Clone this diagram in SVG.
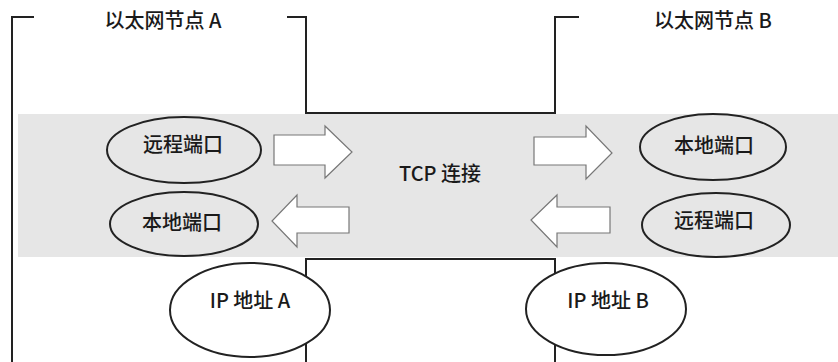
<svg xmlns="http://www.w3.org/2000/svg" width="838" height="362" viewBox="0 0 838 362">
<style>
  .ln{fill:none;stroke:#222;stroke-width:2}
  .el{fill:#fff;stroke:#222;stroke-width:2}
  .elg{fill:#e6e6e6;stroke:#222;stroke-width:2}
  .ar{fill:#fff;stroke:#777;stroke-width:1.2;stroke-linejoin:miter}
  .t{font-family:"Noto Sans CJK SC","Noto Sans",sans-serif;font-size:20px;font-weight:500;fill:#1a1a1a;text-anchor:middle}
</style>
<rect x="18" y="114" width="820" height="143" fill="#e6e6e6"/>
<g id="node-a-boundary">
  <path class="ln" d="M34 17 H12 V362"/>
  <path class="ln" d="M287 17 H306 V113 H555 V17 H579"/>
  <path class="ln" d="M306 362 V259 H555 V362"/>
</g>
<g id="label-a"><text class="t" x="163" y="28">以太网节点 A</text></g>
<g id="label-b"><text class="t" x="713" y="28">以太网节点 B</text></g>
<g id="tcp"><text class="t" x="440" y="181">TCP 连接</text></g>
<g id="a-remote-port">
  <ellipse class="elg" cx="184" cy="150" rx="77" ry="33"/>
  <text class="t" x="183" y="152">远程端口</text>
</g>
<g id="a-local-port">
  <ellipse class="elg" cx="184" cy="224" rx="74" ry="32"/>
  <text class="t" x="182" y="230">本地端口</text>
</g>
<g id="b-local-port">
  <ellipse class="elg" cx="713" cy="147" rx="73" ry="33"/>
  <text class="t" x="714" y="153">本地端口</text>
</g>
<g id="b-remote-port">
  <ellipse class="elg" cx="716" cy="225" rx="74" ry="32"/>
  <text class="t" x="714" y="228">远程端口</text>
</g>
<g id="ip-a">
  <ellipse class="el" cx="250" cy="310" rx="80" ry="47"/>
  <text class="t" x="250" y="308">IP 地址 A</text>
</g>
<g id="ip-b">
  <ellipse class="el" cx="606" cy="309" rx="80" ry="46"/>
  <text class="t" x="608" y="308">IP 地址 B</text>
</g>
<g id="connectors">
  <path class="ar" d="M274 135 H325 V126 L352 152 L325 178 V165 H274 Z"/>
  <path class="ar" d="M349 207 H297 V195 L272 221 L297 247 V233 H349 Z"/>
  <path class="ar" d="M534 137 H586 V126 L612 153 L586 179 V165 H534 Z"/>
  <path class="ar" d="M610 207 H557 V195 L531 220 L557 247 V233 H610 Z"/>
</g>
</svg>
